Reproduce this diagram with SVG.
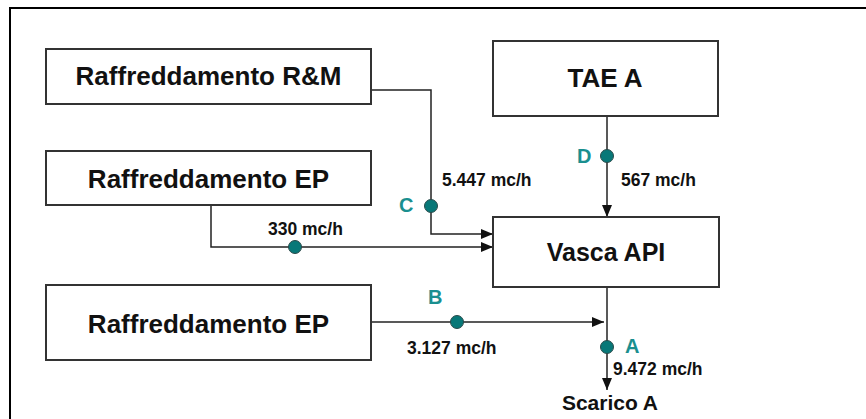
<svg xmlns="http://www.w3.org/2000/svg" width="866" height="419" viewBox="0 0 866 419">
<style>
.box{fill:#fff;stroke:#333;stroke-width:2}
.lbl{font-family:"Liberation Sans",Arial,sans-serif;font-size:26px;font-weight:bold;fill:#111;text-anchor:middle}
.flow{font-family:"Liberation Sans",Arial,sans-serif;font-size:17.5px;font-weight:bold;fill:#111}
.pt{font-family:"Liberation Sans",Arial,sans-serif;font-size:20px;font-weight:bold;fill:#1a8f8f}
.ln{fill:none;stroke:#222;stroke-width:1.5}
.dot{fill:#087878;stroke:#2a4a4a;stroke-width:1}
</style>
<defs>
<marker id="ah" viewBox="0 0 12 10" refX="12" refY="5" markerWidth="12" markerHeight="10" markerUnits="userSpaceOnUse" orient="auto">
<path d="M0,0 L12,5 L0,10 Z" fill="#111"/>
</marker>
</defs>
<rect x="10" y="8" width="900" height="500" fill="#fff" stroke="#000" stroke-width="2"/>
<g id="connectors">
<polyline class="ln" points="371,90 431,90 431,234 493,234" marker-end="url(#ah)"/>
<polyline class="ln" points="211,205 211,247 493,247" marker-end="url(#ah)"/>
<line class="ln" x1="607" y1="116" x2="607" y2="217" marker-end="url(#ah)"/>
<line class="ln" x1="371" y1="322" x2="604" y2="322" marker-end="url(#ah)"/>
<line class="ln" x1="607" y1="287" x2="607" y2="390" marker-end="url(#ah)"/>
<circle class="dot" cx="431" cy="206" r="6.5"/>
<circle class="dot" cx="295" cy="247" r="6.5"/>
<circle class="dot" cx="607" cy="156" r="6.5"/>
<circle class="dot" cx="457" cy="322" r="6.5"/>
<circle class="dot" cx="607" cy="347" r="6.5"/>
<text class="pt" x="399" y="212">C</text>
<text class="pt" x="577" y="163">D</text>
<text class="pt" x="428" y="304">B</text>
<text class="pt" x="625" y="353">A</text>
<text class="flow" x="442" y="186">5.447 mc/h</text>
<text class="flow" x="621" y="186">567 mc/h</text>
<text class="flow" x="268" y="235">330 mc/h</text>
<text class="flow" x="407" y="354">3.127 mc/h</text>
<text class="flow" x="613" y="375">9.472 mc/h</text>
</g>
<g id="rm">
<rect class="box" x="46" y="49" width="325" height="55"/>
<text class="lbl" x="208.5" y="85">Raffreddamento R&amp;M</text>
</g>
<g id="ep1">
<rect class="box" x="46" y="151" width="325" height="54"/>
<text class="lbl" x="208.5" y="188">Raffreddamento EP</text>
</g>
<g id="ep2">
<rect class="box" x="46" y="285" width="325" height="75"/>
<text class="lbl" x="208.5" y="333">Raffreddamento EP</text>
</g>
<g id="tae">
<rect class="box" x="493" y="41" width="225" height="75"/>
<text class="lbl" x="605" y="87">TAE A</text>
</g>
<g id="vasca">
<rect class="box" x="493" y="217" width="226" height="70"/>
<text class="lbl" x="606" y="261" style="font-size:25px">Vasca API</text>
</g>
<g id="scarico">
<text class="lbl" x="610" y="410" style="font-size:21px">Scarico A</text>
</g>
</svg>
